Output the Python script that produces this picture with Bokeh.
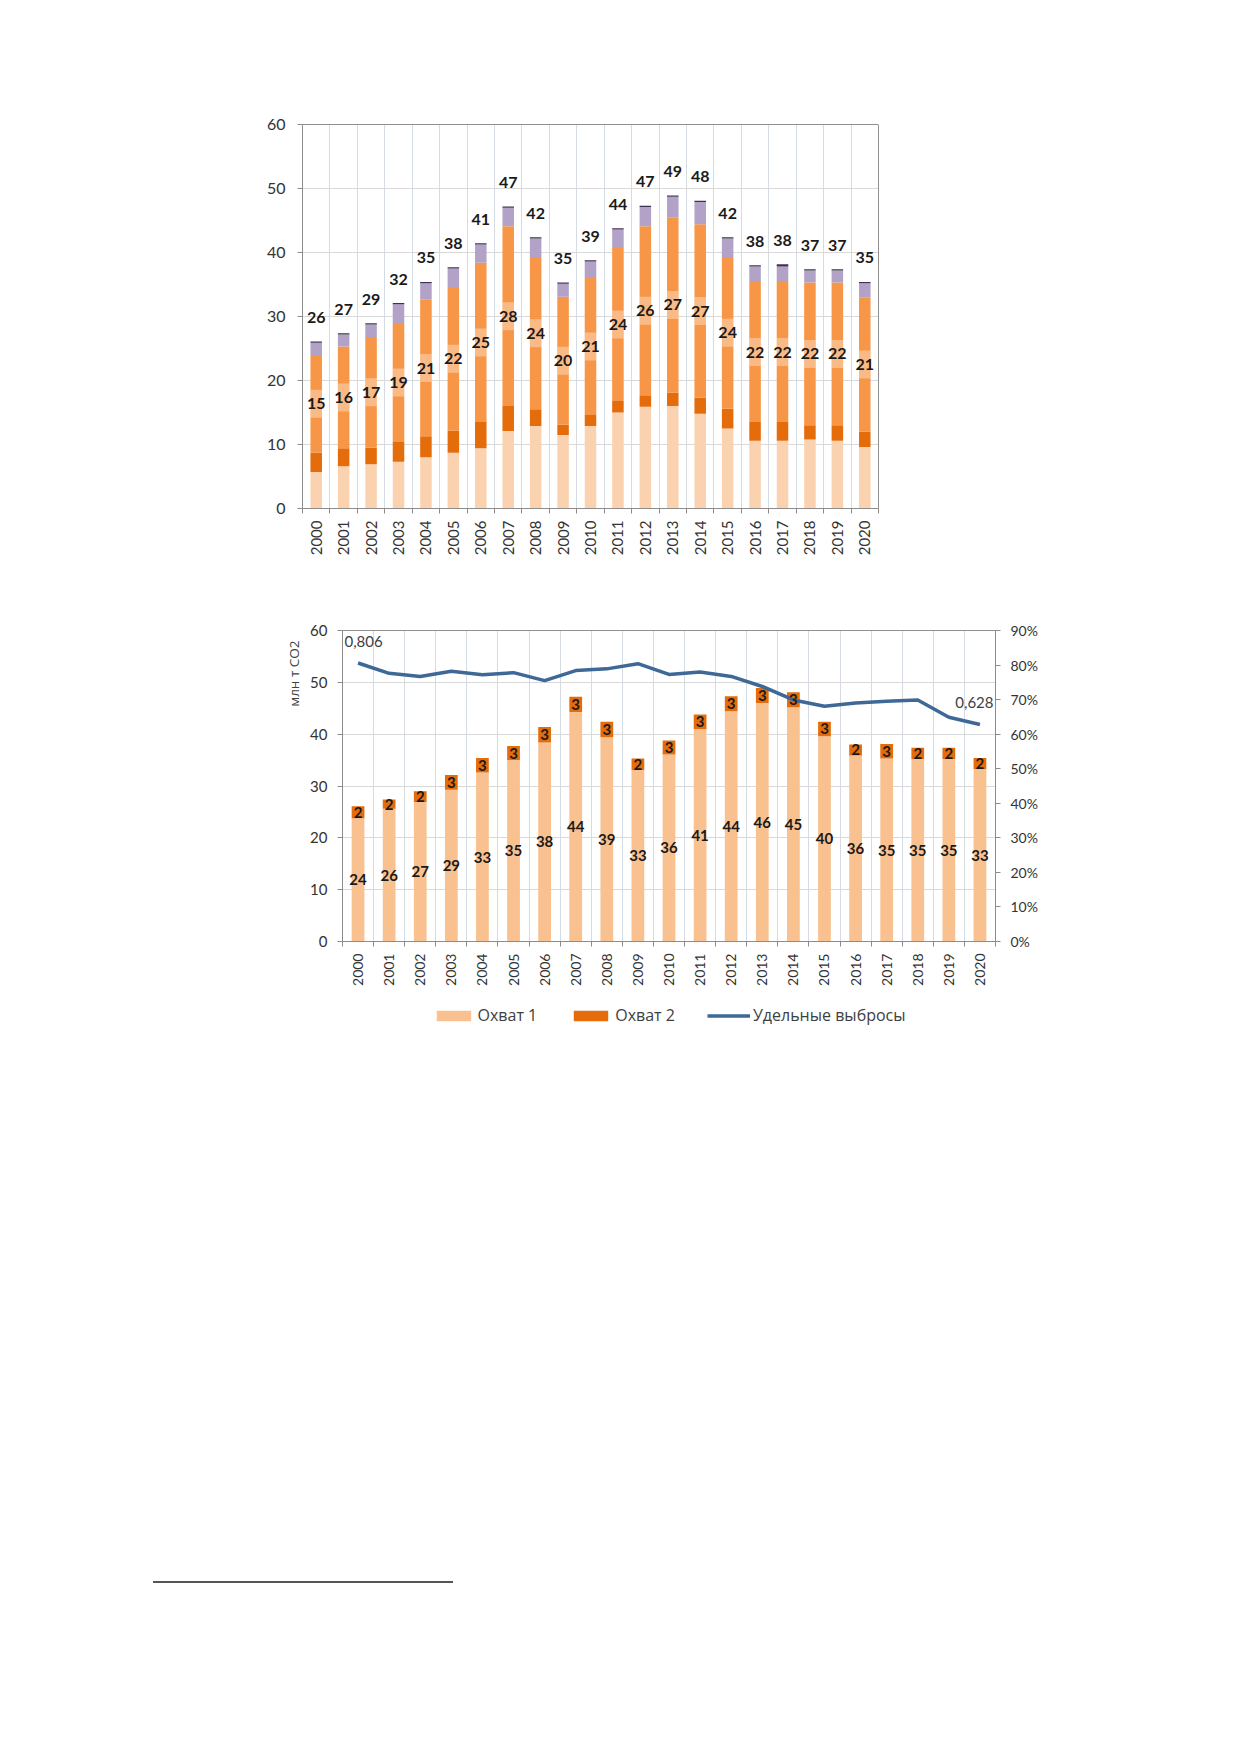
from math import pi
import numpy as np
from bokeh.plotting import figure
from bokeh.models import (FixedTicker, LinearAxis, Range1d, NumeralTickFormatter,
                          Span, Title, Legend, LegendItem, Spacer, Div)
from bokeh.layouts import column, row
from bokeh.embed import file_html
from bokeh.resources import INLINE
from bokeh.core.properties import value

# ---------------- data ----------------
years = [str(y) for y in range(2000, 2021)]

# chart 1: stacked segments (млн т CO2)
seg_base = [5.7, 6.6, 6.9, 7.3, 8.0, 8.7, 9.4, 12.1, 12.9, 11.5, 12.9, 15.0, 15.9, 16.0, 14.8, 12.5, 10.6, 10.6, 10.8, 10.6, 9.6]
seg_dark = [3.0, 2.8, 2.6, 3.1, 3.3, 3.5, 4.1, 3.9, 2.6, 1.6, 1.7, 1.8, 1.8, 2.1, 2.5, 3.1, 2.9, 2.9, 2.2, 2.4, 2.4]
seg_main = [15.3, 15.9, 17.3, 18.6, 21.3, 22.4, 24.9, 28.1, 23.8, 20.0, 21.4, 23.9, 26.4, 27.4, 27.1, 23.7, 21.9, 21.9, 22.3, 22.3, 21.0]
seg_purple = [1.9, 1.9, 1.95, 2.9, 2.6, 2.9, 2.85, 2.9, 2.9, 2.0, 2.6, 2.9, 3.0, 3.2, 3.5, 2.9, 2.4, 2.4, 1.9, 1.9, 2.2]
seg_top = [0.2, 0.2, 0.2, 0.2, 0.2, 0.2, 0.2, 0.2, 0.2, 0.2, 0.2, 0.2, 0.2, 0.2, 0.2, 0.2, 0.2, 0.35, 0.2, 0.2, 0.2]

# chart 2
scope1 = [23.8, 25.6, 26.9, 29.3, 32.6, 35.0, 38.4, 44.3, 39.4, 33.1, 36.1, 41.0, 44.4, 46.0, 45.2, 39.6, 35.9, 35.3, 35.2, 35.2, 33.3]
scope2 = [2.3, 1.8, 2.1, 2.8, 2.8, 2.7, 3.0, 2.9, 3.0, 2.2, 2.7, 2.8, 2.9, 2.9, 2.9, 2.8, 2.1, 2.8, 2.2, 2.2, 2.1]
intensity = [0.806, 0.776, 0.767, 0.782, 0.772, 0.778, 0.755, 0.784, 0.789, 0.804, 0.773, 0.780, 0.767, 0.738, 0.699, 0.681, 0.690, 0.695, 0.699, 0.649, 0.628]
legend_names = ["Охват 1", "Охват 2", "Удельные выбросы"]

# ---------------- styles ----------------
NUM_FONT = "Lato"
CYR_FONT = "Open Sans"
GRID = "#D9D9D9"
VGRID = "#D5DBE3"
AXIS = "#8C8C8C"
TXT = "#333333"
C_SCOPE1 = "#F9C18F"
C_SCOPE2 = "#E46C0A"
C_LINE = "#3E6895"

x = list(range(len(years)))
n = len(years)
bounds = [i - 0.5 for i in range(n + 1)]


def style_xaxis(ax, size):
    ax.ticker = FixedTicker(ticks=x, minor_ticks=bounds)
    ax.major_label_overrides = {i: years[i] for i in x}
    ax.major_label_orientation = pi / 2
    ax.major_tick_line_color = None
    ax.major_tick_out = 5
    ax.major_tick_in = 0
    ax.minor_tick_line_color = AXIS
    ax.minor_tick_out = 5
    ax.minor_tick_in = 0
    ax.major_label_standoff = 7
    ax.axis_line_color = AXIS
    ax.major_label_text_font = NUM_FONT
    ax.major_label_text_font_size = size
    ax.major_label_text_color = TXT


def style_yaxis(ax, size, standoff):
    ax.major_tick_out = 5
    ax.major_tick_in = 0
    ax.minor_tick_line_color = None
    ax.major_tick_line_color = AXIS
    ax.axis_line_color = AXIS
    ax.major_label_standoff = standoff
    ax.major_label_text_font = NUM_FONT
    ax.major_label_text_font_size = size
    ax.major_label_text_color = TXT


# ================= chart 1 =================
FH1 = 384
p1 = figure(frame_width=576, frame_height=FH1, x_range=Range1d(-0.5, n - 0.5),
            y_range=Range1d(0, 60), output_backend="svg", toolbar_location=None,
            min_border_left=60, min_border_right=40, min_border_top=30,
            min_border_bottom=70, outline_line_color=None)

segs = [seg_base, seg_dark, seg_main, seg_purple, seg_top]
cols1 = ["#FAD2B0", "#E46C0A", "#F79646", "#B3A2C7", "#3F3151"]
arr = np.array(segs)
tops = np.cumsum(arr, axis=0)
bots = tops - arr
for k in range(len(segs)):
    p1.vbar(x=x, bottom=list(bots[k]), top=list(tops[k]), width=0.42,
            fill_color=cols1[k], line_color=None)

total1 = tops[-1]
mid1 = bots[2] + arr[2] / 2
# light label-box band over the main segment
p1.rect(x=x, y=list(mid1), width=0.42, height=28, height_units="screen",
        fill_color="white", fill_alpha=0.35, line_color=None)
p1.text(x=x, y=list(mid1), text=[str(int(round(v))) for v in seg_main],
        text_align="center", text_baseline="middle", text_font=value(NUM_FONT),
        text_font_style="bold", text_font_size="16px", text_color="#1A1A1A")
ppu1 = FH1 / 60.0
p1.text(x=x, y=list(total1 + 24 / ppu1), text=[str(int(round(v))) for v in total1],
        text_align="center", text_baseline="middle", text_font=value(NUM_FONT),
        text_font_style="bold", text_font_size="16px", text_color="#1A1A1A")

style_xaxis(p1.xaxis[0], "15px")
p1.yaxis[0].ticker = FixedTicker(ticks=[0, 10, 20, 30, 40, 50, 60])
style_yaxis(p1.yaxis[0], "16px", 12)
p1.xgrid.ticker = FixedTicker(ticks=bounds)
p1.xgrid.grid_line_color = VGRID
p1.ygrid.grid_line_color = GRID
p1.add_layout(Span(location=60, dimension="width", line_color="#222222", line_width=1))
p1.add_layout(Span(location=n - 0.5, dimension="height", line_color="#222222", line_width=1))

# ================= chart 2 =================
FH2 = 311
p2 = figure(frame_width=653, frame_height=FH2, x_range=Range1d(-0.5, n - 0.5),
            y_range=Range1d(0, 60), output_backend="svg", toolbar_location=None,
            min_border_left=70, min_border_right=70, min_border_top=25,
            min_border_bottom=54, outline_line_color=None)
p2.extra_y_ranges = {"pct": Range1d(0, 0.9)}

s1 = np.array(scope1)
s2 = np.array(scope2)
p2.vbar(x=x, bottom=0, top=scope1, width=0.41, fill_color=C_SCOPE1, line_color=None)
p2.vbar(x=x, bottom=scope1, top=list(s1 + s2), width=0.41, fill_color=C_SCOPE2, line_color=None)
p2.line(x=x, y=intensity, y_range_name="pct", line_color=C_LINE, line_width=3.5)

p2.text(x=x, y=list(s1 / 2), text=[str(int(round(v))) for v in scope1],
        text_align="center", text_baseline="middle", text_font=value(NUM_FONT),
        text_font_style="bold", text_font_size="15px", text_color="#1A1A1A")
p2.text(x=x, y=list(s1 + s2 / 2), text=[str(int(round(v))) for v in scope2],
        text_align="center", text_baseline="middle", text_font=value(NUM_FONT),
        text_font_style="bold", text_font_size="15px", text_color="#1A1A1A")

ppu_pct = FH2 / 0.9
fmt = lambda v: f"{v:.3f}".replace(".", ",")
p2.text(x=[-0.5], y=[intensity[0] + 21 / ppu_pct], text=[fmt(intensity[0])],
        x_offset=2, y_range_name="pct", text_align="left", text_baseline="middle",
        text_font=value(NUM_FONT), text_font_size="15px", text_color="#404040")
p2.text(x=[n - 0.5], y=[intensity[-1] + 22 / ppu_pct], text=[fmt(intensity[-1])],
        x_offset=-2, y_range_name="pct", text_align="right", text_baseline="middle",
        text_font=value(NUM_FONT), text_font_size="15px", text_color="#404040")

style_xaxis(p2.xaxis[0], "14px")
p2.yaxis[0].ticker = FixedTicker(ticks=[0, 10, 20, 30, 40, 50, 60])
style_yaxis(p2.yaxis[0], "15px", 10)
rax = LinearAxis(y_range_name="pct", ticker=FixedTicker(ticks=[i / 10 for i in range(10)]),
                 formatter=NumeralTickFormatter(format="0%"))
style_yaxis(rax, "14px", 10)
p2.add_layout(rax, "right")
p2.xgrid.ticker = FixedTicker(ticks=bounds)
p2.xgrid.grid_line_color = VGRID
p2.ygrid.grid_line_color = GRID
p2.add_layout(Span(location=60, dimension="width", line_color="#222222", line_width=1))

p2.add_layout(Title(text="млн т CO2", align="right", offset=10, text_font=CYR_FONT,
                    text_font_size="13.5px", text_font_style="normal",
                    text_color="#404040"), "left")

# ================= legend strip (below chart 2) =================
p3 = figure(frame_width=653, frame_height=40, x_axis_type=None, y_axis_type=None,
            output_backend="svg", toolbar_location=None, min_border_left=70,
            min_border_right=70, min_border_top=0, min_border_bottom=0,
            outline_line_color=None, x_range=Range1d(-0.5, n - 0.5),
            y_range=Range1d(0, 60))
# proxy renderers (hidden) so the legend can show the series' swatches
g1 = p3.vbar(x=x, top=scope1, width=0.41, fill_color=C_SCOPE1, line_color=None, visible=False)
g2 = p3.vbar(x=x, top=scope2, width=0.41, fill_color=C_SCOPE2, line_color=None, visible=False)
g3 = p3.line(x=x, y=intensity, line_color=C_LINE, line_width=3.5, visible=False)
legend = Legend(items=[LegendItem(label=legend_names[0], renderers=[g1]),
                       LegendItem(label=legend_names[1], renderers=[g2]),
                       LegendItem(label=legend_names[2], renderers=[g3])],
                orientation="horizontal", location="center", glyph_width=43,
                glyph_height=13, label_standoff=3, spacing=32, padding=0, margin=0,
                border_line_color=None, background_fill_alpha=0,
                label_text_font=CYR_FONT, label_text_font_size="16px",
                label_text_color="#404040")
p3.add_layout(legend)

rule = Div(text="", width=300, height=2, styles={"background-color": "#555555"})

layout = column(Spacer(height=94), row(Spacer(width=242), p1),
                Spacer(height=27), row(Spacer(width=272), p2),
                row(Spacer(width=272), p3),
                Spacer(height=541), row(Spacer(width=148), rule))

open("out.html", "w").write(file_html(layout, INLINE))
